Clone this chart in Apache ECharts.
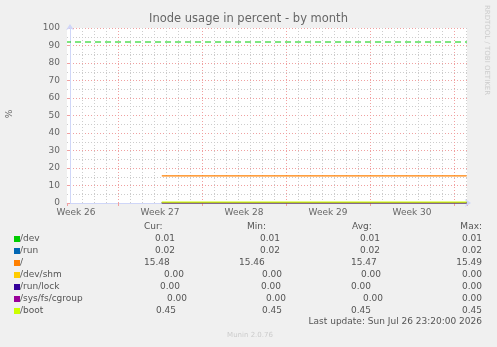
<!DOCTYPE html>
<html>
<head>
<meta charset="utf-8">
<script src="https://cdn.jsdelivr.net/npm/echarts@6/dist/echarts.min.js"></script>
<style>
  html, body { margin: 0; padding: 0; background: #f0f0f0; }
  #chart { width: 497px; height: 347px; }
</style>
</head>
<body>
<div id="chart"></div>
<script>
// time axis in days; day 0 is the first daily grid line
const viewStart = -0.25
const viewEnd = 33.0833
const weekLabels = ['Week 26', 'Week 27', 'Week 28', 'Week 29', 'Week 30']

const sampleDays = [7.65, 12, 18, 24, 30, 33.05]
const devValues = [0.01, 0.01, 0.01, 0.01, 0.01, 0.01]
const runValues = [0.02, 0.02, 0.02, 0.02, 0.02, 0.02]
const rootValues = [15.46, 15.46, 15.47, 15.47, 15.48, 15.48]
const shmValues = [0, 0, 0, 0, 0, 0]
const lockValues = [0, 0, 0, 0, 0, 0]
const cgroupValues = [0, 0, 0, 0, 0, 0]
const bootValues = [0.45, 0.45, 0.45, 0.45, 0.45, 0.45]
const warnLevel = 92

const fsNames = ['/dev', '/run', '/', '/dev/shm', '/run/lock', '/sys/fs/cgroup', '/boot']
const fsColors = ['#00cc00', '#0066b3', '#ff8000', '#ffcc00', '#330099', '#990099', '#ccff00']
const fsValues = [devValues, runValues, rootValues, shmValues, lockValues, cgroupValues, bootValues]

const curText = ['0.01', '0.02', '15.48', '0.00', '0.00', '0.00', '0.45']
const minText = ['0.01', '0.02', '15.46', '0.00', '0.00', '0.00', '0.45']
const avgText = ['0.01', '0.02', '15.47', '0.00', '0.00', '0.00', '0.45']
const maxText = ['0.01', '0.02', '15.49', '0.00', '0.00', '0.00', '0.45']

// legend layout (x where each value starts, row by row)
const curLeft = [155, 155, 144, 164, 160, 167, 156]
const minLeft = [260, 260, 239, 262, 261, 266, 262]
const avgLeft = [360, 360, 351, 361, 351, 363, 351]
const maxRight = 482
const rowTop = 239
const rowStep = 12

const FONT = '"DejaVu Sans", sans-serif'
const textColor = '#555'
const axisColor = '#cfd6f8'
const majorGrid = '#f0a0a0'
const minorGrid = '#cccccc'

const chart = echarts.init(document.getElementById('chart'), null, { renderer: 'canvas' })

const txt = (x, y, text, align, extra = {}) => ({
  type: 'text',
  x,
  y,
  silent: true,
  style: {
    text,
    fill: extra.fill || textColor,
    font: `${extra.size || 9}px ${FONT}`,
    textAlign: align || 'left',
    textVerticalAlign: 'middle'
  },
  rotation: extra.rotation || 0
})

const graphics = [
  txt(10, 114, '%', 'center', { rotation: Math.PI / 2, fill: '#666' }),
  txt(487, 50, 'RRDTOOL / TOBI OETIKER', 'center', { rotation: -Math.PI / 2, fill: '#cccccc', size: 7 }),
  txt(144, 227, 'Cur:', 'left'),
  txt(247, 227, 'Min:', 'left'),
  txt(352, 227, 'Avg:', 'left'),
  txt(maxRight, 227, 'Max:', 'right'),
  txt(maxRight, 322, 'Last update: Sun Jul 26 23:20:00 2026', 'right'),
  txt(250, 335, 'Munin 2.0.76', 'center', { fill: '#cccccc', size: 7 })
]

fsNames.forEach((name, i) => {
  const y = rowTop + i * rowStep
  graphics.push({
    type: 'rect',
    silent: true,
    shape: { x: 14, y: y - 3, width: 6, height: 6 },
    style: { fill: fsColors[i] }
  })
  graphics.push(txt(20, y, name, 'left'))
  graphics.push(txt(curLeft[i], y, curText[i], 'left'))
  graphics.push(txt(minLeft[i], y, minText[i], 'left'))
  graphics.push(txt(avgLeft[i], y, avgText[i], 'left'))
  graphics.push(txt(maxRight, y, maxText[i], 'right'))
})

const lineSeries = fsNames.map((name, i) => ({
  name,
  type: 'line',
  xAxisIndex: 0,
  yAxisIndex: 0,
  symbol: 'none',
  animation: false,
  lineStyle: { color: fsColors[i], width: 1.2 },
  data: sampleDays.map((d, k) => [d, fsValues[i][k]])
}))

const option = {
  backgroundColor: '#f0f0f0',
  animation: false,
  textStyle: { fontFamily: FONT },
  title: {
    text: 'Inode usage in percent - by month',
    left: 'center',
    top: 13,
    padding: 0,
    textStyle: { color: '#666', fontSize: 11.5, fontWeight: 'normal', fontFamily: FONT }
  },
  grid: {
    left: 67,
    top: 28,
    width: 400,
    height: 175,
    show: true,
    backgroundColor: '#ffffff',
    borderWidth: 0
  },
  xAxis: [
    {
      // daily grid
      type: 'value',
      position: 'bottom',
      min: viewStart,
      max: viewEnd,
      splitNumber: 33,
      minInterval: 1,
      maxInterval: 1,
      axisLine: {
        show: true,
        lineStyle: { color: axisColor, width: 1 },
        symbol: ['none', 'arrow'],
        symbolSize: [6, 6],
        symbolOffset: [0, 4]
      },
      axisTick: { show: false },
      axisLabel: { show: false },
      splitLine: {
        show: true,
        showMinLine: false,
        showMaxLine: false,
        lineStyle: { color: minorGrid, type: [1, 2], width: 1 }
      }
    },
    {
      // week boundaries
      type: 'value',
      position: 'bottom',
      min: viewStart - 4,
      max: viewEnd - 4,
      splitNumber: 5,
      minInterval: 7,
      maxInterval: 7,
      axisLine: { show: false },
      axisTick: { show: true, length: 3, lineStyle: { color: majorGrid } },
      axisLabel: { show: false },
      splitLine: {
        show: true,
        showMinLine: false,
        showMaxLine: false,
        lineStyle: { color: majorGrid, type: [1, 2], width: 1 }
      }
    },
    {
      // week labels, centred in each week
      type: 'value',
      position: 'bottom',
      min: viewStart - 0.5,
      max: viewEnd - 0.5,
      splitNumber: 5,
      minInterval: 7,
      maxInterval: 7,
      axisLine: { show: false },
      axisTick: { show: false },
      splitLine: { show: false },
      axisLabel: {
        show: true,
        showMinLabel: false,
        showMaxLabel: false,
        margin: 5,
        color: '#666',
        fontSize: 9,
        fontFamily: FONT,
        formatter(v) {
          const k = Math.round(v / 7)
          return Math.abs(v - k * 7) < 1e-6 ? (weekLabels[k] || '') : ''
        }
      }
    }
  ],
  yAxis: {
    type: 'value',
    min: 0,
    max: 100,
    interval: 10,
    axisLine: {
      show: true,
      lineStyle: { color: axisColor, width: 1 },
      symbol: ['none', 'arrow'],
      symbolSize: [6, 6],
      symbolOffset: [0, 4]
    },
    axisTick: { show: true, length: 3, lineStyle: { color: majorGrid } },
    axisLabel: { color: '#666', fontSize: 9, fontFamily: FONT, margin: 7 },
    splitLine: {
      show: true,
      showMinLine: false,
      lineStyle: { color: majorGrid, type: [1, 2], width: 1 }
    },
    minorTick: { show: false, splitNumber: 2 },
    minorSplitLine: {
      show: true,
      lineStyle: { color: minorGrid, type: [1, 2], width: 1 }
    }
  },
  graphic: graphics,
  series: [
    {
      name: 'warning',
      type: 'line',
      xAxisIndex: 0,
      symbol: 'none',
      silent: true,
      lineStyle: { color: '#00cc00', width: 1, type: [6, 4], dashOffset: 2 },
      data: [[viewStart, warnLevel], [viewEnd, warnLevel]]
    },
    ...lineSeries
  ]
}

chart.setOption(option)
</script>
</body>
</html>
